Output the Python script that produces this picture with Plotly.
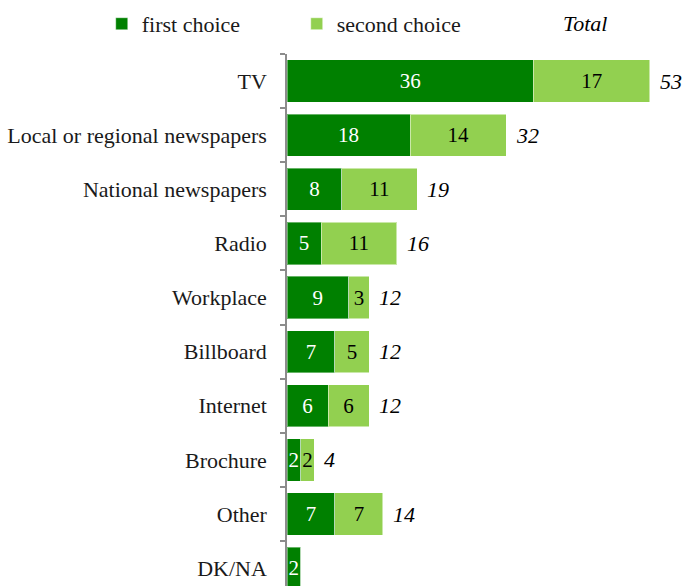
import plotly.graph_objects as go

categories = ["TV", "Local or regional newspapers", "National newspapers", "Radio",
              "Workplace", "Billboard", "Internet", "Brochure", "Other", "DK/NA"]
first_choice = [36, 18, 8, 5, 9, 7, 6, 2, 7, 2]
second_choice = [17, 14, 11, 11, 3, 5, 6, 2, 7, 0]
totals = [53, 32, 19, 16, 12, 12, 12, 4, 14, None]

DARK = "#008000"
LIGHT = "#92D050"
FONT = "Liberation Serif"

fig = go.Figure()
fig.add_trace(go.Bar(
    y=categories, x=first_choice, orientation="h", name="first choice",
    marker=dict(color=DARK, line=dict(color="rgba(255,255,255,0.4)", width=1)),
    text=[str(v) for v in first_choice], textposition="inside",
    insidetextanchor="middle", textangle=0,
    textfont=dict(family=FONT, size=21, color="white"),
    hoverinfo="skip",
))
fig.add_trace(go.Bar(
    y=categories, x=second_choice, orientation="h", name="second choice",
    marker=dict(color=LIGHT, line=dict(color="rgba(255,255,255,0.5)", width=1)),
    text=[str(v) if v else "" for v in second_choice], textposition="inside",
    insidetextanchor="middle", textangle=0,
    textfont=dict(family=FONT, size=21, color="black"),
    hoverinfo="skip",
))

annotations = []
for cat, tot in zip(categories, totals):
    if tot is None:
        continue
    annotations.append(dict(
        x=tot, y=cat, xref="x", yref="y", text=str(tot), showarrow=False,
        xanchor="left", yanchor="middle", xshift=8,
        font=dict(family=FONT, size=22, color="black", style="italic"),
    ))
annotations.append(dict(
    x=0.754, y=1.0564, xref="paper", yref="paper", text="Total", showarrow=False,
    xanchor="center", yanchor="middle",
    font=dict(family=FONT, size=22, color="black", style="italic"),
))

fig.update_layout(
    barmode="stack", bargap=0.22,
    width=682, height=586,
    margin=dict(l=287, r=0, t=54, b=0),
    paper_bgcolor="white", plot_bgcolor="white",
    font=dict(family=FONT, size=22, color="#1a1a1a"),
    showlegend=True,
    legend=dict(orientation="h", x=-0.469, y=1.096, xanchor="left", yanchor="top",
                font=dict(family=FONT, size=22, color="#1a1a1a"),
                traceorder="normal", entrywidth=150, bgcolor="rgba(0,0,0,0)"),
    uniformtext=dict(minsize=21, mode="show"),
    annotations=annotations,
)
fig.update_xaxes(range=[0, 57.7], visible=False, fixedrange=True)
fig.update_yaxes(
    categoryorder="array", categoryarray=categories,
    range=[9.33, -0.5],
    showline=True, linecolor="#8c8c8c", linewidth=1.5,
    ticks="outside", tickson="boundaries", ticklen=5, tickcolor="#8c8c8c", tickwidth=1.5,
    showgrid=False, zeroline=False, ticklabelstandoff=14,
    tickfont=dict(family=FONT, size=22, color="#1a1a1a"),
    fixedrange=True,
)

fig.write_html("out.html", config={"displayModeBar": False},
               post_script="document.body.style.margin='0';")
